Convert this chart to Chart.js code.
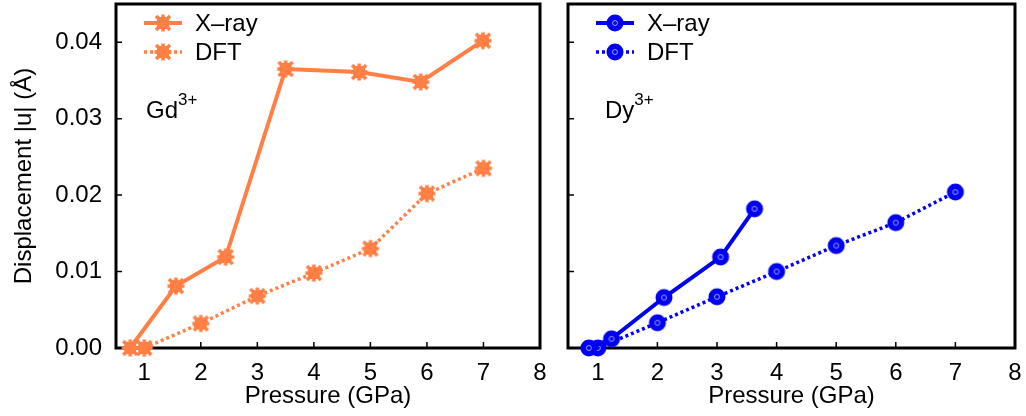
<!DOCTYPE html>
<html>
<head>
<meta charset="utf-8">
<title>Displacement vs pressure</title>
<script src="https://cdn.jsdelivr.net/npm/chart.js@4.4.1/dist/chart.umd.min.js"></script>
<style>
  body { margin: 0; background: #fff; width: 1026px; height: 416px; position: relative; overflow: hidden; }
  canvas { position: absolute; top: 0; }
  #gd { left: 0; }
  #dy { left: 548px; }
</style>
</head>
<body>
<canvas id="gd" width="548" height="416"></canvas>
<canvas id="dy" width="478" height="416"></canvas>
<script>
'use strict';

// axis ticks
const xTicks = [1, 2, 3, 4, 5, 6, 7, 8];
const yTicks = [0, 0.01, 0.02, 0.03, 0.04];
const seriesNames = ['X\u2013ray', 'DFT'];

// Gd3+ panel
const gdXrayP = [0.75, 1.56, 2.44, 3.50, 4.80, 5.89, 6.99];
const gdXrayU = [0, 0.0081, 0.0119, 0.0365, 0.0361, 0.0348, 0.0402];
const gdDftP = [1, 2, 3, 4, 5, 6, 7];
const gdDftU = [0, 0.0032, 0.0068, 0.0098, 0.0130, 0.0202, 0.0235];

// Dy3+ panel
const dyXrayP = [0.85, 1.23, 2.11, 3.06, 3.63];
const dyXrayU = [0, 0.0012, 0.0066, 0.0119, 0.0182];
const dyDftP = [1, 2, 3, 4, 5, 6, 7];
const dyDftU = [0, 0.0033, 0.0067, 0.0100, 0.0134, 0.0164, 0.0204];

const FONT = '"Liberation Sans", Arial, Helvetica, sans-serif';
const FS = 24;
const ORANGE = '#ff7f45';
const BLUE = '#0000f2';

function crossMarker(color) {
    const c = document.createElement('canvas');
    c.width = 20; c.height = 20;
    const g = c.getContext('2d');
    g.fillStyle = color;
    g.strokeStyle = color;
    g.fillRect(4, 4, 12, 12);
    g.lineWidth = 3.5;
    g.beginPath();
    g.moveTo(3, 3); g.lineTo(17, 17);
    g.moveTo(17, 3); g.lineTo(3, 17);
    g.moveTo(10, 1.5); g.lineTo(10, 18.5);
    g.moveTo(1.5, 10); g.lineTo(18.5, 10);
    g.stroke();
    return c;
}

function ringMarker(color) {
    const c = document.createElement('canvas');
    c.width = 20; c.height = 20;
    const g = c.getContext('2d');
    g.fillStyle = color;
    g.beginPath();
    g.arc(10, 10, 8.5, 0, Math.PI * 2);
    g.fill();
    g.strokeStyle = 'rgba(255,255,255,0.6)';
    g.lineWidth = 1;
    g.beginPath();
    g.arc(10, 10, 2.5, 0, Math.PI * 2);
    g.stroke();
    return c;
}

const toPts = (xs, ys) => xs.map((x, i) => ({ x: x, y: ys[i] }));

function series(label, xs, ys, color, marker, dashed) {
    return {
        label: label,
        data: toPts(xs, ys),
        borderColor: color,
        backgroundColor: color,
        borderWidth: dashed ? 3.5 : 4,
        borderDash: dashed ? [3, 3] : [],
        pointStyle: marker,
        pointRadius: 9,
        tension: 0,
        clip: false
    };
}

// frame, inward ticks, legend and ion label
const panelDeco = {
    id: 'panelDeco',
    beforeDatasetsDraw(chart, args, opts) {
        const { ctx, chartArea: a, scales } = chart;
        ctx.save();
        ctx.strokeStyle = '#000';
        ctx.lineWidth = 1.5;
        ctx.beginPath();
        xTicks.forEach(v => {
            const px = scales.x.getPixelForValue(v);
            ctx.moveTo(px, a.bottom); ctx.lineTo(px, a.bottom - 6);
        });
        yTicks.forEach(v => {
            const py = scales.y.getPixelForValue(v);
            ctx.moveTo(a.left, py); ctx.lineTo(a.left + 6, py);
        });
        ctx.stroke();
        ctx.lineWidth = 3;
        ctx.strokeRect(a.left, a.top, a.right - a.left, a.bottom - a.top);
        ctx.restore();
    },
    afterDatasetsDraw(chart, args, opts) {
        const { ctx, chartArea: a } = chart;
        ctx.save();
        // legend
        chart.data.datasets.forEach((ds, i) => {
            const y = a.top + 19 + i * 29;
            ctx.strokeStyle = ds.borderColor;
            ctx.lineWidth = ds.borderWidth;
            ctx.setLineDash(ds.borderDash);
            ctx.beginPath();
            ctx.moveTo(a.left + 28, y); ctx.lineTo(a.left + 66, y);
            ctx.stroke();
            ctx.setLineDash([]);
            ctx.drawImage(ds.pointStyle, a.left + 47 - 10, y - 10);
            ctx.fillStyle = '#000';
            ctx.font = FS + 'px ' + FONT;
            ctx.textBaseline = 'middle';
            ctx.textAlign = 'left';
            ctx.fillText(ds.label, a.left + 79, y + 1);
        });
        // ion label with superscript
        ctx.fillStyle = '#000';
        ctx.textBaseline = 'alphabetic';
        ctx.font = FS + 'px ' + FONT;
        const bx = a.left + opts.ionX;
        ctx.fillText(opts.ion, bx, a.top + 114);
        const w = ctx.measureText(opts.ion).width;
        ctx.font = '17px ' + FONT;
        ctx.fillText(opts.charge, bx + w, a.top + 101);
        ctx.restore();
    }
};

function buildPanel(id, datasets, pad, showY, ion, ionX) {
    return new Chart(document.getElementById(id), {
        type: 'line',
        data: { datasets: datasets },
        options: {
            responsive: false,
            animation: false,
            events: [],
            layout: { padding: pad, autoPadding: false },
            plugins: {
                legend: { display: false },
                tooltip: { enabled: false },
                panelDeco: { ion: ion, charge: '3+', ionX: ionX }
            },
            scales: {
                x: {
                    type: 'linear',
                    min: 0.5,
                    max: 8,
                    afterBuildTicks: s => { s.ticks = xTicks.map(v => ({ value: v })); },
                    afterFit: s => { s.height = 68; s.paddingLeft = 0; s.paddingRight = 0; },
                    grid: { display: false, drawTicks: false },
                    border: { display: false },
                    ticks: { padding: 11, color: '#000', font: { family: FONT, size: FS } },
                    title: {
                        display: true, text: 'Pressure (GPa)', color: '#000',
                        font: { family: FONT, size: FS }, padding: { top: 0, bottom: 5 }
                    }
                },
                y: {
                    type: 'linear',
                    display: showY,
                    min: 0,
                    max: 0.045,
                    afterBuildTicks: s => { s.ticks = yTicks.map(v => ({ value: v })); },
                    afterFit: s => { s.width = showY ? 116 : 0; s.paddingTop = 0; s.paddingBottom = 0; },
                    grid: { display: false, drawTicks: false },
                    border: { display: false },
                    ticks: {
                        padding: 14, color: '#000', font: { family: FONT, size: FS },
                        callback: v => v.toFixed(2)
                    },
                    title: {
                        display: true, text: 'Displacement |u| (\u00C5)', color: '#000',
                        font: { family: FONT, size: FS }, padding: { top: 10, bottom: 0 }
                    }
                }
            }
        },
        plugins: [panelDeco]
    });
}

buildPanel('gd', [
    series(seriesNames[0], gdXrayP, gdXrayU, ORANGE, crossMarker(ORANGE), false),
    series(seriesNames[1], gdDftP, gdDftU, ORANGE, crossMarker(ORANGE), true)
], { top: 4, right: 8, left: 0, bottom: 0 }, true, 'Gd', 30);

buildPanel('dy', [
    series(seriesNames[0], dyXrayP, dyXrayU, BLUE, ringMarker(BLUE), false),
    series(seriesNames[1], dyDftP, dyDftU, BLUE, ringMarker(BLUE), true)
], { top: 4, right: 11, left: 20, bottom: 0 }, false, 'Dy', 37);
</script>
</body>
</html>
